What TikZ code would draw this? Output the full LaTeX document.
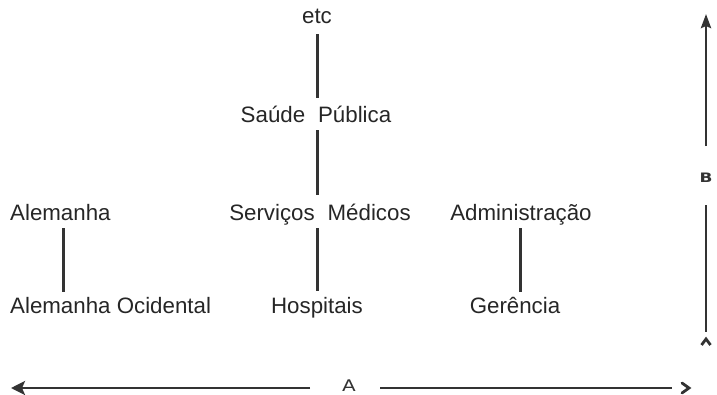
\documentclass[tikz,border=0pt]{standalone}
\usepackage{fontspec}
\setmainfont{Liberation Sans}
\newfontfamily\axfont{DejaVu Sans}
\usetikzlibrary{arrows.meta}
\begin{document}
\begin{tikzpicture}[x=1pt,y=-1pt,
  lbl/.style={font=\fontsize{22.3}{26}\selectfont, text=black!85, inner sep=0pt, anchor=base},
  conn/.style={line width=3pt, draw=black!80},
  axis/.style={line width=2.8pt, draw=black!80},
  axlbl/.style={text=black!80, inner sep=0pt}]
\useasboundingbox (0,0) rectangle (717,394);
% nodes
\node[lbl] (etc) at (317,23) {etc};
\node[lbl] (sp) at (316,122) {Saúde\hspace{0.3em} Pública};
\node[lbl] (sm) at (320,220) {Serviços\hspace{0.3em} Médicos};
\node[lbl] (ho) at (317,313) {Hospitais};
\node[lbl,anchor=base west] (al) at (10,220) {Alemanha};
\node[lbl,anchor=base west] (ao) at (10,313) {Alemanha Ocidental};
\node[lbl] (ad) at (521,220) {Administração};
\node[lbl] (ge) at (515,313) {Gerência};
% connectors
\coordinate (c1t) at (317,34); \coordinate (c1b) at (317,98);
\draw[conn] (c1t) -- (c1b);
\coordinate (c2t) at (317,130); \coordinate (c2b) at (317,195);
\draw[conn] (c2t) -- (c2b);
\coordinate (c3t) at (317,228); \coordinate (c3b) at (317,291);
\draw[conn] (c3t) -- (c3b);
\coordinate (c4t) at (63,228); \coordinate (c4b) at (63,292);
\draw[conn] (c4t) -- (c4b);
\coordinate (c5t) at (520,228); \coordinate (c5b) at (520,292);
\draw[conn] (c5t) -- (c5b);
% axis A
\node[axlbl,anchor=base] (A) at (349,391) {\axfont\fontsize{16}{18}\selectfont\scalebox{1.25}[1]{A}};
\coordinate (al1) at (310,388); \coordinate (al0) at (11,388);
\draw[axis,-{Stealth[length=14pt,width=14pt,inset=3pt]}] (al1) -- (al0);
\coordinate (ar0) at (380,388); \coordinate (ar1) at (689,388);
\draw[axis] (ar0) -- (672,388);
\draw[axis,line cap=round,line join=miter] (682,383) -- (ar1) -- (682,393);
% axis B
\node[axlbl] (B) at (706,178) {\axfont\bfseries\fontsize{13}{15}\selectfont\scalebox{1.3}[1]{B}};
\coordinate (bt0) at (706,146); \coordinate (bt1) at (706,14);
\draw[axis,-{Stealth[length=14pt,width=10pt,inset=2pt]}] (bt0) -- (bt1);
\coordinate (bb0) at (706,205); \coordinate (bb1) at (706,332);
\draw[axis] (bb0) -- (bb1);
\draw[axis,line join=miter] (701.5,345) -- (706,339) -- (710.5,345);
\end{tikzpicture}
\end{document}
